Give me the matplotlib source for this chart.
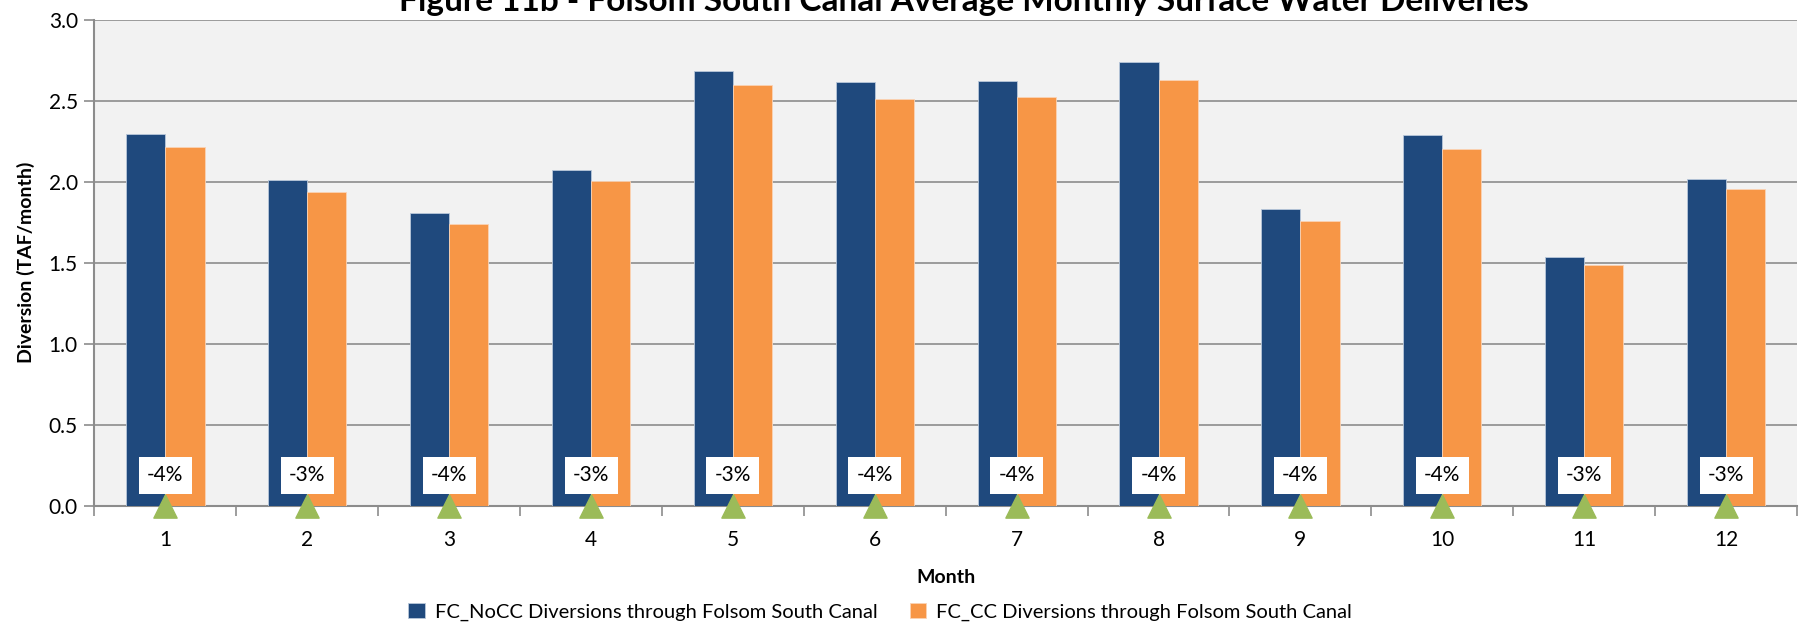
import matplotlib
matplotlib.use("Agg")
import matplotlib.pyplot as plt
import numpy as np

months = [str(i) for i in range(1, 13)]
nocc = [2.296, 2.010, 1.806, 2.069, 2.683, 2.612, 2.620, 2.737, 1.830, 2.289, 1.535, 2.019]
cc = [2.211, 1.938, 1.738, 2.003, 2.597, 2.512, 2.521, 2.630, 1.760, 2.204, 1.488, 1.952]
pct_labels = ["-4%", "-3%", "-4%", "-3%", "-3%", "-4%", "-4%", "-4%", "-4%", "-4%", "-3%", "-3%"]
yticks = [0.0, 0.5, 1.0, 1.5, 2.0, 2.5, 3.0]

plt.rcParams['font.family'] = ['Lato', 'DejaVu Sans']

fig = plt.figure(figsize=(18.08, 6.29), dpi=100)
ax = fig.add_axes([94.5/1808, 1 - 506/629, (1797-94.5)/1808, (506-19.5)/629])
ax.set_facecolor('#F2F2F2')

x = np.arange(len(months))
w = 0.276
ax.bar(x - w/2, nocc, w, color='#1F497D', edgecolor='#B8C7DA', linewidth=0.6,
       label='FC_NoCC Diversions through Folsom South Canal', zorder=3)
ax.bar(x + w/2, cc, w, color='#F79646', edgecolor='#FAD3B5', linewidth=0.6,
       label='FC_CC Diversions through Folsom South Canal', zorder=3)

ax.scatter(x, [0.0]*len(x), marker='^', s=280, color='#9BBB59', zorder=6, clip_on=False)
for xi, lab in zip(x, pct_labels):
    ax.text(xi, 0.19, lab, ha='center', va='center', fontsize=15, color='black', zorder=7,
            bbox=dict(boxstyle='square,pad=0.4', facecolor='white', edgecolor='none'))

ax.set_ylim(0, 3.0)
ax.set_xlim(-0.5, len(months) - 0.5)
ax.set_yticks(yticks)
ax.set_yticklabels([f"{v:.1f}" for v in yticks], fontsize=15)
ax.yaxis.grid(True, color='#8C8C8C', linewidth=1.2, zorder=0)
ax.set_axisbelow(True)

ax.set_xticks(x)
ax.set_xticklabels(months, fontsize=15)
ax.tick_params(axis='x', length=0, pad=17)
ax.set_xticks(np.arange(-0.5, len(months)), minor=True)
ax.tick_params(axis='x', which='minor', length=7, color='#8C8C8C', width=1.2)
ax.tick_params(axis='y', length=7, color='#8C8C8C', width=1.2, pad=5)

for s in ['top', 'right']:
    ax.spines[s].set_visible(False)
for s in ['left', 'bottom']:
    ax.spines[s].set_color('#8C8C8C')
    ax.spines[s].set_linewidth(1.5)

ax.set_xlabel('Month', fontsize=14, fontweight='bold', labelpad=14)
ax.set_ylabel('Diversion (TAF/month)', fontsize=14, fontweight='bold', labelpad=10)

fig.text(964/1808, 1 - 2/629, 'Figure 11b - Folsom South Canal Average Monthly Surface Water Deliveries',
         ha='center', va='center', fontsize=24, fontweight='bold')

ax.legend(loc='center', bbox_to_anchor=(0.5 - 0.0386, -0.218), ncol=2, frameon=False,
          fontsize=14.5, handlelength=0.8, handleheight=0.8, columnspacing=1.6, handletextpad=0.5)

fig.savefig('out.png', dpi=100)
